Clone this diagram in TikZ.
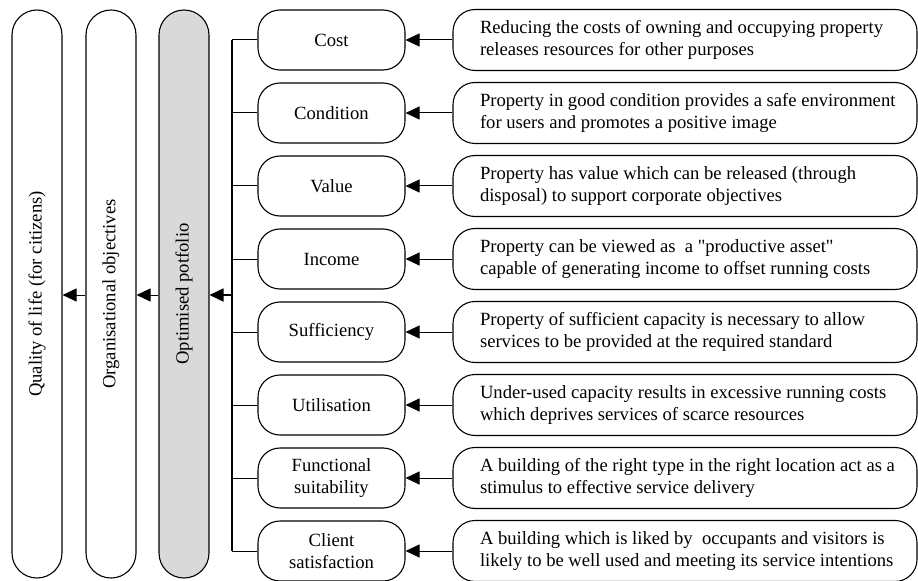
\documentclass[tikz,border=0pt]{standalone}
\usepackage{fontspec}
\setmainfont{Liberation Serif}
\usetikzlibrary{arrows.meta}
\definecolor{ink}{HTML}{000000}
\definecolor{shade}{HTML}{D9D9D9}

% two left-aligned lines, pushed a little to the right inside their box
\newcommand{\reasontext}[1]{\makebox[428bp][l]{\hspace{9bp}\begin{tabular}{@{}l@{}}#1\end{tabular}}}

\tikzset{
  box/.style={draw=ink,line width=1.1bp,rounded corners=22bp,align=center,
    font=\fontsize{18.7}{22.5}\selectfont,inner sep=0pt},
  pillar/.style={box,rounded corners=25bp,minimum width=50bp,minimum height=568bp},
  factor/.style={box,minimum width=147bp,minimum height=60bp},
  reason/.style={box,minimum width=464bp,minimum height=61bp},
  link/.style={ink,line width=1bp},
  bold link/.style={ink,line width=1.8bp},
  arr/.style={link,-{Triangle[length=14bp,width=13bp]}}
}

\begin{document}
\begin{tikzpicture}[x=1bp,y=-1bp]
  \useasboundingbox (0,0) rectangle (918,581);

  % The three tall pillars on the left.
  \node[pillar] (qol) at (37,294) {\rotatebox{90}{Quality of life (for citizens)}};
  \node[pillar] (org) at (111,294) {\rotatebox{90}{Organisational objectives}};
  \node[pillar,fill=shade] (port) at (184,294) {\rotatebox{90}{Optimised potfolio}};

  % Bus collecting the factors.
  \coordinate (bustop) at (232,40);
  \coordinate (busbot) at (232,551);
  \coordinate (bus) at (232,295);
  \draw[bold link] (bustop) -- (busbot);

  % Factors and the reasons behind them.
  \foreach \i/\lab/\txt in {
    1/{Cost}/{Reducing the costs of owning and occupying property\\releases resources for other purposes},
    2/{Condition}/{Property in good condition provides a safe environment\\for users and promotes a positive image},
    3/{Value}/{Property has value which can be released (through\\disposal) to support corporate objectives},
    4/{Income}/{Property can be viewed as \ a \textquotedbl productive asset\textquotedbl\\capable of generating income to offset running costs},
    5/{Sufficiency}/{Property of sufficient capacity is necessary to allow\\services to be provided at the required standard},
    6/{Utilisation}/{Under-used capacity results in excessive running costs\\which deprives services of scarce resources},
    7/{Functional\\suitability}/{A building of the right type in the right location act as a\\stimulus to effective service delivery},
    8/{Client\\satisfaction}/{A building which is liked by \ occupants and visitors is\\likely to be well used and meeting its service intentions}} {
    \node[factor] (f\i) at (331.5,{40+73*(\i-1)}) {\lab};
    \node[reason] (r\i) at (685,{40+73*(\i-1)}) {\reasontext{\txt}};
    \draw[arr] (r\i.west) -- (f\i.east);
    \draw[link] (f\i.west) -- (f\i.west -| bustop);
  }

  % Arrows running left through the pillars.
  \draw[arr,bold link] (bus) -- (bus -| port.east);
  \draw[arr] (bus -| port.west) -- (bus -| org.east);
  \draw[arr] (bus -| org.west) -- (bus -| qol.east);
\end{tikzpicture}
\end{document}
